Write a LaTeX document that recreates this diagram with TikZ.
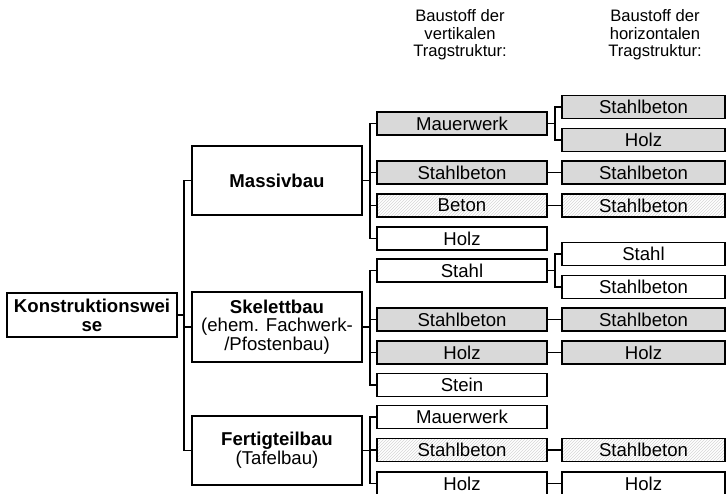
\documentclass[tikz,border=0pt]{standalone}
\usepackage{fontspec}
\setmainfont{Liberation Sans}
\usetikzlibrary{patterns}
\newcommand\boxfont{\fontsize{18.6}{18.8}\selectfont}
\newcommand\headfont{\fontsize{16.6}{17.5}\selectfont}
\begin{document}
\begin{tikzpicture}[x=1pt,y=-1pt,
  every node/.style={inner sep=0pt, font=\boxfont, align=center},
  box/.style={draw, line width=1.8pt, fill=white, minimum height=23pt},
  colA/.style={box, minimum width=170pt},
  colB/.style={box, minimum width=163pt},
  bigbox/.style={draw, line width=1.8pt, fill=white, minimum width=170pt},
  grayfill/.style={fill=gray!30},
  hatched/.style={preaction={fill=white}, pattern=north east lines, pattern color=gray!32},
  link/.style={line width=1.8pt}]
\useasboundingbox (0,0) rectangle (726,493);
\clip (0,0) rectangle (726,493);

% column headings
\node[font=\headfont] (hv) at (460,35) {Baustoff der\\vertikalen\\Tragstruktur:};
\node[font=\headfont] (hh) at (655,35) {Baustoff der\\horizontalen\\Tragstruktur:};

% root and construction types
\node[bigbox, minimum height=44pt] (root) at (92,315) {\bfseries Konstruktionswei\\\bfseries se};
\node[bigbox, minimum height=69pt] (mass) at (277,180.5) {\bfseries Massivbau};
\node[bigbox, minimum height=70pt] (skel) at (277,327) {\bfseries Skelettbau\\(ehem. Fachwerk-\\/Pfostenbau)};
\node[bigbox, minimum height=69pt] (fert) at (277,450.5) {\bfseries Fertigteilbau\\(Tafelbau)};

% vertical load-bearing material
\node[colA, grayfill] (m1) at (462,123.5) {Mauerwerk};
\node[colA, grayfill] (m2) at (462,172.5) {Stahlbeton};
\node[colA, hatched]  (m3) at (462,205.5) {Beton};
\node[colA]           (m4) at (462,238.5) {Holz};
\node[colA]           (s1) at (462,270.5) {Stahl};
\node[colA, grayfill] (s2) at (462,319.5) {Stahlbeton};
\node[colA, grayfill] (s3) at (462,352.5) {Holz};
\node[colA]           (s4) at (462,385) {Stein};
\node[colA]           (f1) at (462,417) {Mauerwerk};
\node[colA, hatched]  (f2) at (462,450) {Stahlbeton};
\node[colA]           (f3) at (462,483.5) {Holz};

% horizontal load-bearing material
\node[colB, grayfill] (m1a) at (643.5,107) {Stahlbeton};
\node[colB, grayfill] (m1b) at (643.5,140) {Holz};
\node[colB, grayfill] (m2a) at (643.5,172.5) {Stahlbeton};
\node[colB, hatched]  (m3a) at (643.5,205.5) {Stahlbeton};
\node[colB]           (s1a) at (643.5,254) {Stahl};
\node[colB]           (s1b) at (643.5,287) {Stahlbeton};
\node[colB, grayfill] (s2a) at (643.5,319.5) {Stahlbeton};
\node[colB, grayfill] (s3a) at (643.5,352.5) {Holz};
\node[colB, hatched]  (f2a) at (643.5,450) {Stahlbeton};
\node[colB]           (f3a) at (643.5,483.5) {Holz};

% spine from the root
\coordinate (r0) at (184,315);
\draw[link] (root.east) -- (r0);
\draw[link] (mass.west) -| (r0) |- (fert.west);
\draw[link] (skel.west) -- (skel.west -| r0);

% Massivbau branches
\coordinate (ma) at (370,180.5);
\draw[link] (mass.east) -- (ma);
\draw[link] (m1.west) -| (ma) |- (m4.west);
\draw[link] (m2.west) -- (m2.west -| ma);
\draw[link] (m3.west) -- (m3.west -| ma);

% Skelettbau branches
\coordinate (sk) at (370,327);
\draw[link] (skel.east) -- (sk);
\draw[link] (s1.west) -| (sk) |- (s4.west);
\draw[link] (s2.west) -- (s2.west -| sk);
\draw[link] (s3.west) -- (s3.west -| sk);

% Fertigteilbau branches
\coordinate (fe) at (370,450.5);
\draw[link] (fert.east) -- (fe);
\draw[link] (f1.west) -| (fe) |- (f3.west);
\draw[link] (f2.west) -- (f2.west -| fe);

% vertical to horizontal material
\coordinate (j1) at (555,123.5);
\draw[link] (m1.east) -- (j1);
\draw[link] (m1a.west) -| (j1) |- (m1b.west);
\draw[link] (m2.east) -- (m2a.west);
\draw[link] (m3.east) -- (m3a.west);
\coordinate (j2) at (555,270.5);
\draw[link] (s1.east) -- (j2);
\draw[link] (s1a.west) -| (j2) |- (s1b.west);
\draw[link] (s2.east) -- (s2a.west);
\draw[link] (s3.east) -- (s3a.west);
\draw[link] (f2.east) -- (f2a.west);
\draw[link] (f3.east) -- (f3a.west);
\end{tikzpicture}
\end{document}
